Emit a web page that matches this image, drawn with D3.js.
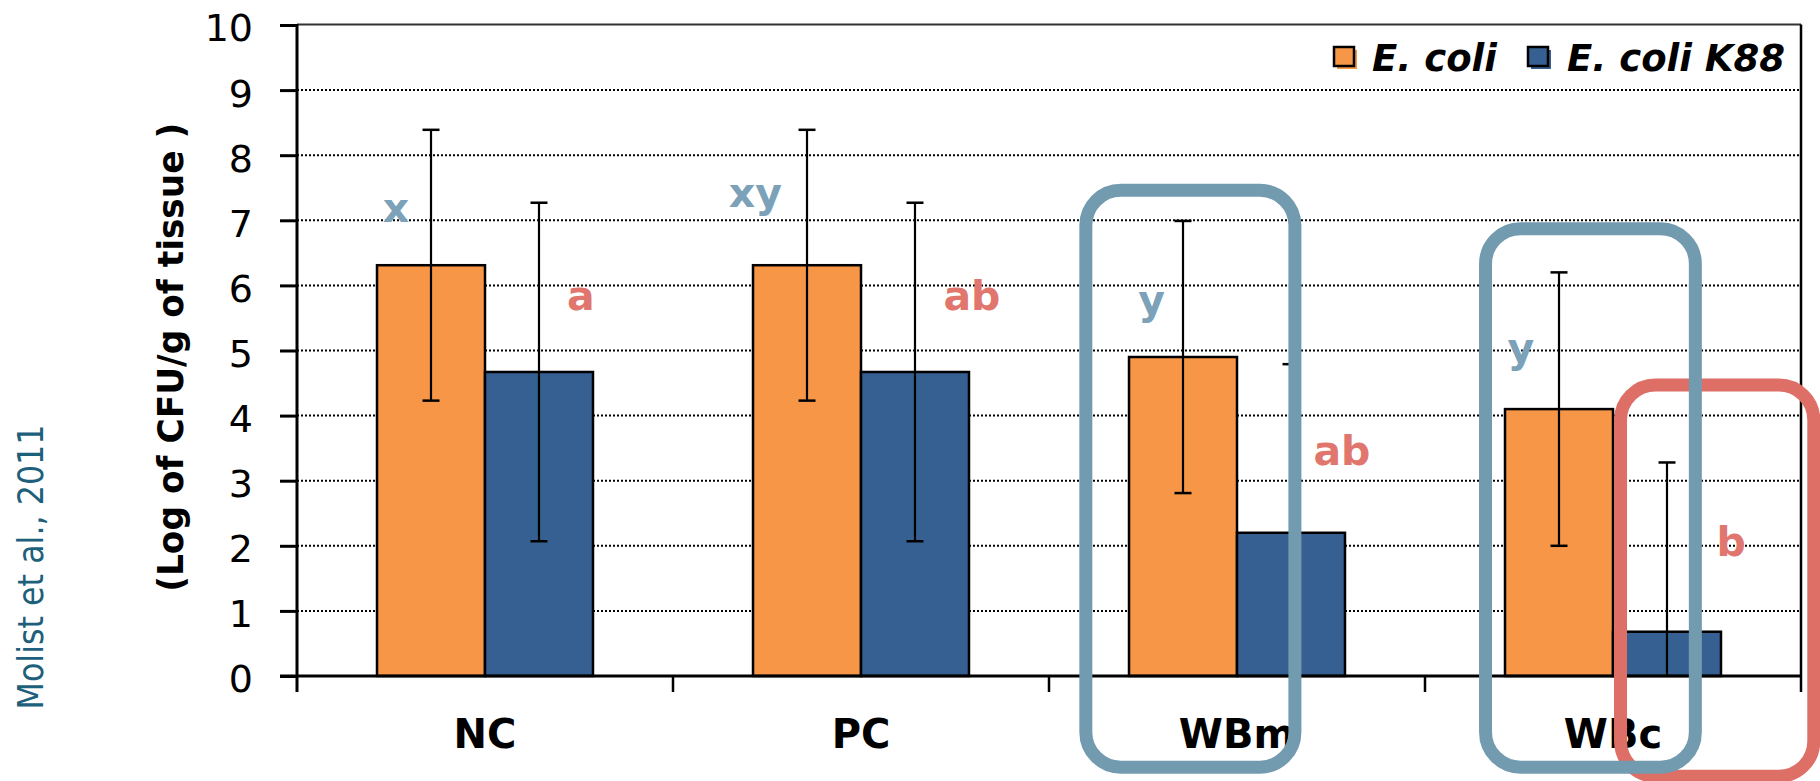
<!DOCTYPE html>
<html>
<head>
<meta charset="utf-8">
<script src="https://cdn.jsdelivr.net/npm/d3@7"></script>
<style>
  html, body { margin: 0; padding: 0; background: #fff; }
  svg { display: block; }
  text { font-family: "DejaVu Sans", Verdana, sans-serif; }
</style>
</head>
<body>
<svg id="chart" width="1820" height="781"></svg>
<script>
// ---- data ----
const categories = ["NC", "PC", "WBm", "WBc"];
const seriesNames = ["E. coli", "E. coli K88"];
const ecoliMean = [6.31, 6.31, 4.90, 4.10];
const ecoliErr  = [2.08, 2.08, 2.09, 2.10];
const k88Mean   = [4.67, 4.67, 2.20, 0.68];
const k88Err    = [2.60, 2.60, 2.59, 2.60];
const yTicks    = [0, 1, 2, 3, 4, 5, 6, 7, 8, 9, 10];
const ecoliLetters = ["x", "xy", "y", "y"];
const k88Letters   = ["a", "ab", "ab", "b"];
// letter placement: fraction across category band, value level (baseline)
const ecoliLetterPos = [[0.263, 6.97], [0.219, 7.21], [0.273, 5.56], [0.255, 4.83]];
const k88LetterPos   = [[0.755, 5.62], [0.795, 5.62], [0.779, 3.24], [0.814, 1.84]];
// highlight boxes: category, band fraction left/right, value top/bottom
const highlightBoxes = [
  { cat: "WBc", f0: 0.52,  f1: 1.034, v0: 4.47, v1: -1.54, kind: "red"  },
  { cat: "WBm", f0: 0.098, f1: 0.654, v0: 7.46, v1: -1.40, kind: "blue" },
  { cat: "WBc", f0: 0.161, f1: 0.719, v0: 6.87, v1: -1.40, kind: "blue" }
];
const yTitle = "(Log of CFU/g of tissue )";
const citation = "Molist et al., 2011";

// ---- style ----
const colors = { "E. coli": "#F79646", "E. coli K88": "#376092" };
const letterColors = { "E. coli": "#7ba2b8", "E. coli K88": "#e0766d" };
const boxColors = { blue: "#739bb0", red: "#dd6f67" };

const svg = d3.select("#chart");
const pLeft = 297, pRight = 1801, pTop = 24.5, pBottom = 676;

const x0 = d3.scaleBand().domain(categories).range([pLeft, pRight]).padding(0);
const bw = x0.bandwidth();
const x1 = d3.scaleBand().domain(seriesNames).range([bw * 0.2128, bw * 0.7872]).padding(0);
const y = d3.scaleLinear().domain([0, 10]).range([pBottom, pTop + 0.5]);

const data = categories.map((c, i) => ({
  cat: c,
  values: [
    { s: seriesNames[0], v: ecoliMean[i], e: ecoliErr[i] },
    { s: seriesNames[1], v: k88Mean[i], e: k88Err[i] }
  ]
}));

// gridlines
svg.append("g")
  .selectAll("line")
  .data(yTicks.filter(t => t > 0 && t < 10))
  .join("line")
  .attr("x1", pLeft).attr("x2", pRight)
  .attr("y1", d => y(d)).attr("y2", d => y(d))
  .attr("stroke", "#000").attr("stroke-width", 2).attr("stroke-dasharray", "2,2");

// top border
svg.append("line").attr("x1", pLeft).attr("x2", pRight).attr("y1", pTop).attr("y2", pTop)
  .attr("stroke", "#333").attr("stroke-width", 2);

// y axis
const yAxis = d3.axisLeft(y).tickValues(yTicks).tickSize(17).tickPadding(27).tickFormat(d3.format("d"));
const gy = svg.append("g").attr("transform", `translate(${pLeft},0)`).call(yAxis);
gy.select(".domain").remove();
gy.selectAll(".tick line").attr("stroke", "#000").attr("stroke-width", 3);
gy.selectAll(".tick text").attr("font-size", 38).attr("fill", "#000")
  .attr("font-family", "DejaVu Sans").attr("dy", "0.42em");
svg.append("line").attr("x1", pLeft).attr("x2", pLeft).attr("y1", pTop - 0.5).attr("y2", pBottom + 16)
  .attr("stroke", "#000").attr("stroke-width", 3);

// category ticks (last one is the right border)
const catEdges = categories.map(c => x0(c)).concat([pRight]);
svg.append("g").selectAll("line").data(catEdges.slice(1)).join("line")
  .attr("x1", d => d).attr("x2", d => d)
  .attr("y1", (d, i) => i === catEdges.length - 2 ? pTop : pBottom).attr("y2", pBottom + 16)
  .attr("stroke", "#000").attr("stroke-width", 2.5);

// bars
const groups = svg.append("g").selectAll("g").data(data).join("g")
  .attr("transform", d => `translate(${x0(d.cat)},0)`);
groups.selectAll("rect").data(d => d.values).join("rect")
  .attr("x", d => x1(d.s)).attr("width", x1.bandwidth())
  .attr("y", d => y(d.v)).attr("height", d => y(0) - y(d.v))
  .attr("fill", d => colors[d.s]).attr("stroke", "#000").attr("stroke-width", 2.5);

// x axis baseline
svg.append("line").attr("x1", pLeft - 17).attr("x2", pRight).attr("y1", pBottom).attr("y2", pBottom)
  .attr("stroke", "#000").attr("stroke-width", 3);

// error bars
const eb = groups.selectAll("g.err").data(d => d.values).join("g").attr("class", "err");
eb.append("line")
  .attr("x1", d => x1(d.s) + x1.bandwidth() / 2).attr("x2", d => x1(d.s) + x1.bandwidth() / 2)
  .attr("y1", d => y(d.v + d.e)).attr("y2", d => y(Math.max(0, d.v - d.e)))
  .attr("stroke", "#000").attr("stroke-width", 2.2);
eb.append("line")
  .attr("x1", d => x1(d.s) + x1.bandwidth() / 2 - 8.5).attr("x2", d => x1(d.s) + x1.bandwidth() / 2 + 8.5)
  .attr("y1", d => y(d.v + d.e)).attr("y2", d => y(d.v + d.e))
  .attr("stroke", "#000").attr("stroke-width", 2.5);
eb.filter(d => d.v - d.e > 0).append("line")
  .attr("x1", d => x1(d.s) + x1.bandwidth() / 2 - 8.5).attr("x2", d => x1(d.s) + x1.bandwidth() / 2 + 8.5)
  .attr("y1", d => y(d.v - d.e)).attr("y2", d => y(d.v - d.e))
  .attr("stroke", "#000").attr("stroke-width", 2.5);

// category labels
svg.append("g").selectAll("text").data(categories).join("text")
  .attr("x", d => x0(d) + bw / 2).attr("y", 748)
  .attr("text-anchor", "middle").attr("font-size", 40).attr("font-weight", "bold")
  .attr("fill", "#000").text(d => d);

// significance letters
const letterData = [];
categories.forEach((c, i) => {
  letterData.push({ cat: c, t: ecoliLetters[i], p: ecoliLetterPos[i], s: seriesNames[0] });
  letterData.push({ cat: c, t: k88Letters[i], p: k88LetterPos[i], s: seriesNames[1] });
});
svg.append("g").selectAll("text").data(letterData).join("text")
  .attr("x", d => x0(d.cat) + bw * d.p[0]).attr("y", d => y(d.p[1]))
  .attr("text-anchor", "middle").attr("font-size", 41).attr("font-weight", "bold")
  .attr("fill", d => letterColors[d.s]).text(d => d.t);

// highlight boxes
svg.append("g").selectAll("rect").data(highlightBoxes).join("rect")
  .attr("x", d => x0(d.cat) + bw * d.f0).attr("width", d => bw * (d.f1 - d.f0))
  .attr("y", d => y(d.v0)).attr("height", d => y(d.v1) - y(d.v0))
  .attr("rx", 35).attr("ry", 35)
  .attr("fill", "none").attr("stroke", d => boxColors[d.kind]).attr("stroke-width", 13);

// legend
const legendItems = [
  { s: seriesNames[0], sq: 1334, tx: 1372 },
  { s: seriesNames[1], sq: 1528, tx: 1567 }
];
const lg = svg.append("g").selectAll("g").data(legendItems).join("g");
lg.append("rect").attr("x", d => d.sq + 3).attr("y", 50).attr("width", 20).attr("height", 19)
  .attr("fill", d => colors[d.s]);
lg.append("rect").attr("x", d => d.sq).attr("y", 47).attr("width", 20).attr("height", 19)
  .attr("fill", d => colors[d.s]).attr("stroke", "#000").attr("stroke-width", 2.5);
lg.append("text").attr("x", d => d.tx).attr("y", 70.5)
  .attr("font-size", 37).attr("font-weight", "bold").attr("font-style", "italic")
  .attr("fill", "#000").text(d => d.s);

// y title
svg.append("text").attr("transform", `translate(183,${(pTop + pBottom) / 2 + 7}) rotate(-90)`)
  .attr("text-anchor", "middle").attr("font-size", 36).attr("font-weight", "bold")
  .attr("textLength", 469).attr("lengthAdjust", "spacingAndGlyphs")
  .attr("fill", "#000").style("white-space", "pre").text(yTitle);

// citation
svg.append("text").attr("transform", "translate(43,567) rotate(-90)")
  .attr("text-anchor", "middle").attr("font-size", 35)
  .attr("font-family", "'Liberation Sans', Arial, sans-serif")
  .attr("textLength", 285).attr("lengthAdjust", "spacingAndGlyphs")
  .attr("fill", "#1e5f7b").text(citation);
</script>
</body>
</html>
